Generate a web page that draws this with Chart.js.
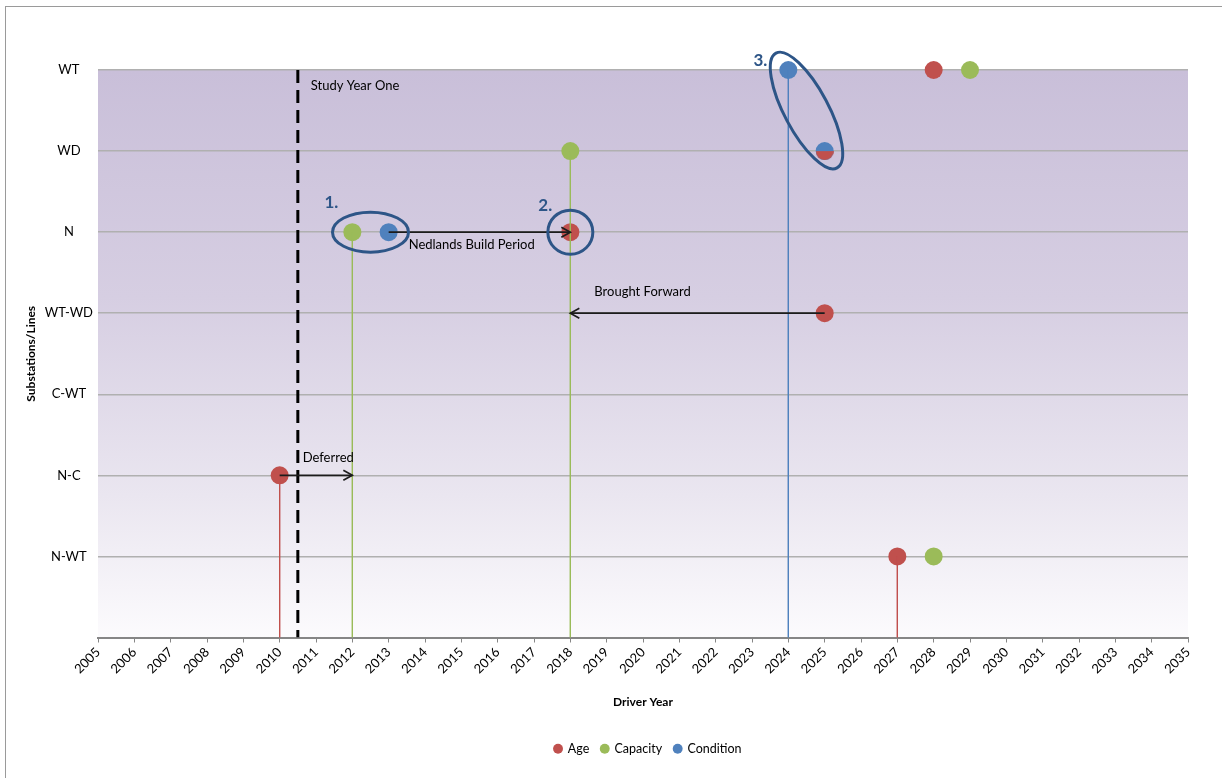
<!DOCTYPE html>
<html>
<head>
<meta charset="utf-8">
<script src="https://cdn.jsdelivr.net/npm/chart.js@4.4.1/dist/chart.umd.min.js"></script>
<style>
  html, body { margin: 0; padding: 0; background: #fff; }
  #wrap { position: relative; width: 1222px; height: 778px; }
  #frame {
    position: absolute; left: 5px; top: 6px; right: -10px; bottom: -10px;
    border-left: 1px solid #9a9a9a; border-top: 1px solid #9a9a9a;
    pointer-events: none;
  }
</style>
</head>
<body>
<div id="wrap">
  <canvas id="driverChart" width="1222" height="778"></canvas>
  <div id="frame"></div>
</div>
<script>
// rows on the y axis, bottom to top (0 is the empty baseline)
const rowLabels = ['', 'N-WT', 'N-C', 'C-WT', 'WT-WD', 'N', 'WD', 'WT'];
const yearMin = 2005;
const yearMax = 2035;
const studyYearOne = 2010.5;

// driver points per series
const ageYears = [2010, 2018, 2025, 2025, 2027, 2028];
const ageRows = ['N-C', 'N', 'WT-WD', 'WD', 'N-WT', 'WT'];
const ageDrop = [true, false, false, false, true, false];

const capacityYears = [2012, 2018, 2028, 2029];
const capacityRows = ['N', 'WD', 'N-WT', 'WT'];
const capacityDrop = [true, true, false, false];

const conditionYears = [2013, 2024, 2025];
const conditionRows = ['N', 'WT', 'WD'];
const conditionDrop = [false, true, false];

// moves between years
const arrowRows = ['N-C', 'N', 'WT-WD'];
const arrowFrom = [2010, 2013, 2025];
const arrowTo = [2012, 2018, 2018];
const arrowText = ['Deferred', 'Nedlands Build Period', 'Brought Forward'];

// circled groups
const groupText = ['1.', '2.', '3.'];
const groupYears = [[2012, 2013], [2018, 2018], [2024, 2025]];
const groupRows = [['N', 'N'], ['N', 'N'], ['WT', 'WD']];

const red = '#C0504D';
const green = '#9BBB59';
const blue = '#4F81BD';
const navy = '#2D5587';
const FONT = 'Lato, "Open Sans", sans-serif';

function row(name) { return rowLabels.indexOf(name); }

function points(years, rows) {
  return years.map((yr, i) => ({ x: yr, y: row(rows[i]) }));
}

// Age marker sharing a spot with a Condition marker is drawn as the lower half only
const halfAge = document.createElement('canvas');
halfAge.width = 18; halfAge.height = 18;
(function () {
  const c = halfAge.getContext('2d');
  c.fillStyle = red;
  c.beginPath();
  c.arc(9, 9, 9, 0, Math.PI);
  c.closePath();
  c.fill();
})();

function sharedWithCondition(x, y) {
  return conditionYears.some((yr, i) => yr === x && row(conditionRows[i]) === y);
}

function seriesSet(label, years, rows, color) {
  return {
    label: label,
    data: points(years, rows),
    backgroundColor: color,
    borderColor: color,
    borderWidth: 0,
    pointRadius: 9,
    pointHoverRadius: 9,
    pointStyle: label === 'Age'
      ? (c) => (c.raw && sharedWithCondition(c.raw.x, c.raw.y) ? halfAge : 'circle')
      : 'circle',
    clip: false,
    order: 2
  };
}

function dropSets(years, rows, flags, color) {
  const out = [];
  years.forEach((yr, i) => {
    if (!flags[i]) return;
    out.push({
      label: 'drop',
      type: 'line',
      data: [{ x: yr, y: row(rows[i]) }, { x: yr, y: 0 }],
      borderColor: color,
      borderWidth: 1,
      pointRadius: 0,
      showLine: true,
      fill: false,
      order: 1
    });
  });
  return out;
}

const datasets = [
  seriesSet('Age', ageYears, ageRows, red),
  seriesSet('Capacity', capacityYears, capacityRows, green),
  seriesSet('Condition', conditionYears, conditionRows, blue),
  {
    label: 'Study Year One',
    type: 'line',
    data: [{ x: studyYearOne, y: 7 }, { x: studyYearOne, y: 0 }],
    borderColor: '#000',
    borderWidth: 3,
    borderDash: [13, 7],
    pointRadius: 0,
    showLine: true,
    fill: false,
    order: 3
  }
].concat(
  dropSets(ageYears, ageRows, ageDrop, red),
  dropSets(capacityYears, capacityRows, capacityDrop, green),
  dropSets(conditionYears, conditionRows, conditionDrop, blue)
);

// purple wash behind the plot
const plotBackground = {
  id: 'plotBackground',
  beforeDatasetsDraw(chart) {
    const { ctx, chartArea: a } = chart;
    const g = ctx.createLinearGradient(0, a.top, 0, a.bottom);
    g.addColorStop(0, '#C9BFD9');
    g.addColorStop(0.4, '#D6CEE2');
    g.addColorStop(0.75, '#EAE6F0');
    g.addColorStop(1, '#FCFBFD');
    ctx.save();
    ctx.globalCompositeOperation = 'destination-over';
    ctx.fillStyle = g;
    ctx.fillRect(a.left, a.top, a.right - a.left, a.bottom - a.top);
    ctx.restore();
  }
};

// legend sits a little right of the canvas centre
const legendShift = {
  id: 'legendShift',
  afterLayout(chart) {
    if (chart.legend) {
      chart.legend.left += 54;
      chart.legend.right += 54;
    }
  }
};

function arrowHead(ctx, tipX, tipY, dir) {
  ctx.beginPath();
  ctx.moveTo(tipX - dir * 9, tipY - 5);
  ctx.lineTo(tipX, tipY);
  ctx.lineTo(tipX - dir * 9, tipY + 5);
  ctx.stroke();
}

// arrows, circled groups and text notes
const notes = {
  id: 'notes',
  afterDatasetsDraw(chart) {
    const { ctx, chartArea: a } = chart;
    const xs = chart.scales.x, ys = chart.scales.y;
    ctx.save();
    ctx.textBaseline = 'middle';
    ctx.textAlign = 'left';

    // study year label
    ctx.font = '13px ' + FONT;
    ctx.fillStyle = '#000';
    ctx.fillText('Study Year One', xs.getPixelForValue(studyYearOne) + 13, a.top + 16);

    const textOffsets = [[23, -18, 'from'], [20, 13, 'from'], [24, -21, 'to']];
    arrowRows.forEach((r, i) => {
      const yy = ys.getPixelForValue(row(r));
      const x1 = xs.getPixelForValue(arrowFrom[i]);
      const x2 = xs.getPixelForValue(arrowTo[i]);
      const dir = x2 > x1 ? 1 : -1;
      ctx.strokeStyle = '#1c1c1c';
      ctx.lineWidth = 1.7;
      ctx.beginPath();
      ctx.moveTo(x1, yy);
      ctx.lineTo(x2, yy);
      ctx.stroke();
      arrowHead(ctx, x2, yy, dir);
      const off = textOffsets[i];
      const base = off[2] === 'from' ? x1 : x2;
      ctx.fillStyle = '#000';
      ctx.font = '13px ' + FONT;
      ctx.fillText(arrowText[i], base + off[0], yy + off[1]);
    });

    const shapes = [
      { rx: 38, ry: 20, rot: 0, tx: -46, ty: -30 },
      { rx: 22.5, ry: 22, rot: 0, tx: -32, ty: -27 },
      { rx: 65, ry: 22, rot: 62 * Math.PI / 180, tx: -53, ty: -50 }
    ];
    groupText.forEach((t, i) => {
      const cx = (xs.getPixelForValue(groupYears[i][0]) + xs.getPixelForValue(groupYears[i][1])) / 2;
      const cy = (ys.getPixelForValue(row(groupRows[i][0])) + ys.getPixelForValue(row(groupRows[i][1]))) / 2;
      const s = shapes[i];
      ctx.strokeStyle = navy;
      ctx.lineWidth = 3;
      ctx.beginPath();
      ctx.ellipse(cx, cy, s.rx, s.ry, s.rot, 0, Math.PI * 2);
      ctx.stroke();
      ctx.fillStyle = navy;
      ctx.font = 'bold 17px ' + FONT;
      ctx.fillText(t, cx + s.tx, cy + s.ty);
    });
    ctx.restore();
  }
};

const ctx = document.getElementById('driverChart').getContext('2d');
const driverChart = new Chart(ctx, {
  type: 'scatter',
  data: { datasets: datasets },
  options: {
    responsive: false,
    animation: false,
    layout: { padding: { top: 70, right: 34, bottom: 13, left: 0 } },
    plugins: {
      tooltip: { enabled: false },
      legend: {
        position: 'bottom',
        labels: {
          filter: (item) => ['Age', 'Capacity', 'Condition'].includes(item.text),
          usePointStyle: true,
          pointStyle: 'circle',
          boxWidth: 7,
          boxHeight: 7,
          padding: 12,
          color: '#000',
          font: { family: FONT, size: 12.5 }
        }
      }
    },
    scales: {
      x: {
        type: 'linear',
        min: yearMin,
        max: yearMax,
        afterFit: (scale) => { scale.height = 93; },
        ticks: {
          stepSize: 1,
          autoSkip: false,
          minRotation: 45,
          maxRotation: 45,
          padding: 2,
          color: '#000',
          font: { family: FONT, size: 13 },
          callback: (v) => String(v)
        },
        grid: {
          drawOnChartArea: false,
          drawTicks: true,
          tickLength: 5,
          color: '#868686'
        },
        border: { display: true, color: '#868686', width: 2 },
        title: {
          display: true,
          text: 'Driver Year',
          color: '#000',
          padding: { top: 0, bottom: 21 },
          font: { family: FONT, size: 12, weight: 'bold' }
        }
      },
      y: {
        type: 'linear',
        min: 0,
        max: 7,
        afterFit: (scale) => { scale.width = 98; },
        ticks: {
          stepSize: 1,
          padding: 5,
          crossAlign: 'center',
          color: '#000',
          font: { family: FONT, size: 13 },
          callback: (v) => rowLabels[v] || ''
        },
        grid: {
          drawTicks: false,
          color: '#B0B0B0',
          lineWidth: 1.5
        },
        border: { display: false },
        title: {
          display: true,
          text: 'Substations/Lines',
          color: '#000',
          padding: { top: 24, bottom: 0 },
          font: { family: FONT, size: 12, weight: 'bold' }
        }
      }
    }
  },
  plugins: [plotBackground, legendShift, notes]
});
</script>
</body>
</html>
